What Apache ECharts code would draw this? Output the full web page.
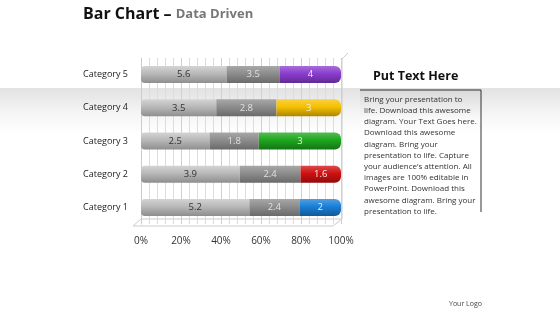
<!DOCTYPE html>
<html><head><meta charset="utf-8">
<script src="https://cdn.jsdelivr.net/npm/echarts@6/dist/echarts.min.js"></script>
<style>html,body{margin:0;padding:0;background:#fff}#c{width:560px;height:315px}</style>
</head><body><div id="c"></div>
<script>
const categories = ['Category 1','Category 2','Category 3','Category 4','Category 5'];
const series1 = [5.2, 3.9, 2.5, 3.5, 5.6];
const series2 = [2.4, 2.4, 1.8, 2.8, 3.5];
const series3 = [2, 1.6, 3, 3, 4];
const series3Colors = ['#1a7fd6','#d01010','#1ea61e','#f5c000','#8a3ccf'];
const tickLabels = ['0%','20%','40%','60%','80%','100%'];
const bodyText = ['Bring your presentation to','life. Download this awesome','diagram. Your Text Goes here.','Download this awesome','diagram. Bring your','presentation to life. Capture','your audience\u2019s attention. All','images are 100% editable in','PowerPoint. Download this','awesome diagram. Bring your','presentation to life.'];

const totals = categories.map((_, i) => series1[i] + series2[i] + series3[i]);
function pct(arr){ return arr.map((v,i)=> ({value: v/totals[i]*100, raw: v})); }
function cyl(c1, c2, c3){
  return new echarts.graphic.LinearGradient(0,0,0,1,[{offset:0,color:c1},{offset:0.45,color:c2},{offset:1,color:c3}]);
}
function shade(hex, f){
  const n = parseInt(hex.slice(1),16);
  let r=(n>>16)&255,g=(n>>8)&255,b=n&255;
  const m = v => Math.max(0,Math.min(255,Math.round(f>0? v+(255-v)*f : v*(1+f))));
  return 'rgb('+m(r)+','+m(g)+','+m(b)+')';
}
const chart = echarts.init(document.getElementById('c'));
const s3data = pct(series3).map((d,i)=>({value:d.value, raw:d.raw, itemStyle:{color: cyl(shade(series3Colors[i],0.25), series3Colors[i], shade(series3Colors[i],-0.3))}}));
const lab = (color) => ({show:true, position:'inside', fontSize:9.5, color:color, fontFamily:'Open Sans', formatter: p => p.data.raw});
chart.setOption({
  animation:false,
  graphic:[
    {type:'rect', shape:{x:0,y:88,width:560,height:45}, silent:true, z:-10,
     style:{fill:new echarts.graphic.LinearGradient(0,0,0,1,[{offset:0,color:'#e2e2e2'},{offset:0.5,color:'#f3f3f3'},{offset:1,color:'#ffffff'}])}},
    {type:'text', left:83, top:6, style:{rich:{a:{fontSize:16,fontWeight:'bold',fill:'#111',fontFamily:'Open Sans'},b:{fontSize:13,fontWeight:'bold',fill:'#777',fontFamily:'Open Sans'}}, text:'{a|Bar Chart \u2013 }{b|Data Driven}'}},
    {type:'text', left:373, top:70, style:{text:'Put Text Here', fontSize:12.5, fontWeight:'bold', fill:'#111', fontFamily:'Open Sans'}},
    {type:'rect', shape:{x:360,y:89,width:122,height:35}, z:-5, style:{fill:new echarts.graphic.LinearGradient(0,0,0,1,[{offset:0,color:'#d8d8d8'},{offset:1,color:'#ffffff'}])}},
    {type:'polyline', shape:{points:[[360,90],[481,90],[481,212]]}, style:{stroke:'#333',lineWidth:1,fill:null}},
    {type:'text', left:364, top:94, style:{text: bodyText.join('\n'), fontSize:8, lineHeight:11.2, fill:'#333', fontFamily:'Open Sans'}},
    {type:'text', left:449, top:300, style:{text:'Your Logo', fontSize:7, fill:'#444', fontFamily:'Open Sans'}},
    {type:'polyline', shape:{points:[[133,226],[141,219],[342,219],[342,59],[348,53]]}, z:-3, style:{stroke:'#ccc',lineWidth:1,fill:null}},
    {type:'polyline', shape:{points:[[133,226],[333,226],[342,219]]}, z:-3, style:{stroke:'#ccc',lineWidth:1,fill:null}}
  ],
  grid:{left:141, right:219, top:58, bottom:91},
  xAxis:{type:'value', min:0, max:100, interval:20,
    axisLabel:{formatter: v => tickLabels[v/20], fontSize:10, color:'#333', fontFamily:'Open Sans', margin:12},
    axisLine:{show:false}, axisTick:{show:false},
    splitLine:{show:true, lineStyle:{color:'#d0d0d0'}},
    minorTick:{show:false, splitNumber:5},
    minorSplitLine:{show:true, lineStyle:{color:'#dcdcdc'}}},
  yAxis:{type:'category', data:categories, axisLine:{show:true,lineStyle:{color:'#ccc'}}, axisTick:{show:false},
    axisLabel:{fontSize:9, color:'#222', fontFamily:'Open Sans', margin:13}},
  series:[
    {type:'bar', stack:'a', barWidth:17, data:pct(series1), label:lab('#333'),
     itemStyle:{color:cyl('#d4d4d4','#b8b8b8','#8e8e8e'), borderRadius:[4,0,0,4]}},
    {type:'bar', stack:'a', barWidth:17, data:pct(series2), label:lab('#e0e0e0'),
     itemStyle:{color:cyl('#a8a8a8','#8c8c8c','#6a6a6a')}},
    {type:'bar', stack:'a', barWidth:17, data:s3data, label:lab('#eee'),
     itemStyle:{borderRadius:[0,6,6,0]}}
  ]
});
</script></body></html>
